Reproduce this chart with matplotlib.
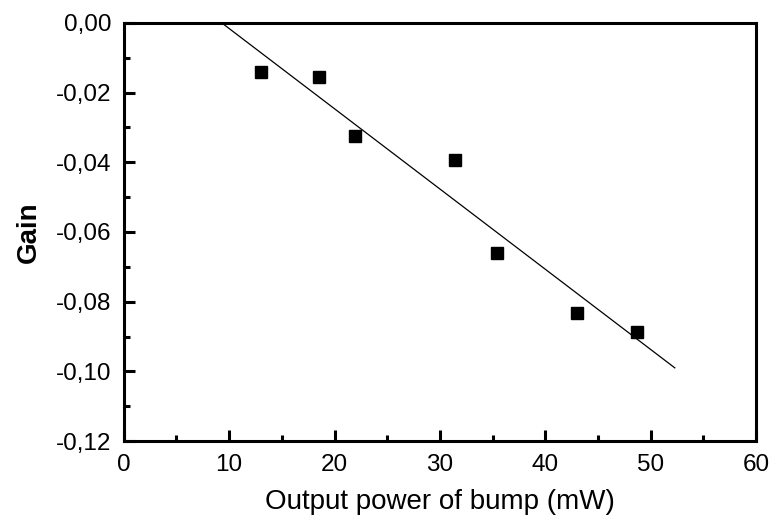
import numpy as np
import matplotlib.pyplot as plt
from matplotlib.ticker import MultipleLocator, FuncFormatter

# measured points
power = [13.0, 18.5, 21.9, 31.4, 35.4, 43.0, 48.7]
gain = [-0.0141, -0.0155, -0.0324, -0.0393, -0.0660, -0.0833, -0.0887]

# linear fit line end points
fit_x = [9.3, 52.3]
fit_y = [0.0, -0.0990]

plt.rcParams['font.family'] = ['Liberation Sans', 'DejaVu Sans']

fig = plt.figure(figsize=(7.69, 5.21), dpi=100)
ax = fig.add_axes([0.161, 0.1535, 0.822, 0.8025])

ax.plot(fit_x, fit_y, color='black', lw=0.9)
ax.plot(power, gain, 's', color='black', markersize=8.6)

ax.set_xlim(0, 60)
ax.set_ylim(-0.12, 0.0)
ax.xaxis.set_major_locator(MultipleLocator(10))
ax.xaxis.set_minor_locator(MultipleLocator(5))
ax.yaxis.set_major_locator(MultipleLocator(0.02))
ax.yaxis.set_minor_locator(MultipleLocator(0.01))
ax.yaxis.set_major_formatter(FuncFormatter(lambda v, p: ('%.2f' % v).replace('.', ',').replace('-0,00', '0,00')))

for s in ax.spines.values():
    s.set_linewidth(2.2)
ax.tick_params(which='both', direction='in', width=2.2, labelsize=17.5, top=False, right=False)
ax.tick_params(axis='y', pad=9)
ax.tick_params(axis='x', pad=9)
ax.tick_params(which='major', length=8)
ax.tick_params(which='minor', length=4)

ax.set_xlabel('Output power of bump (mW)', fontsize=20, labelpad=10)
ax.set_ylabel('Gain', fontsize=20, fontweight='bold', labelpad=10)

fig.savefig('out.png', dpi=100)
